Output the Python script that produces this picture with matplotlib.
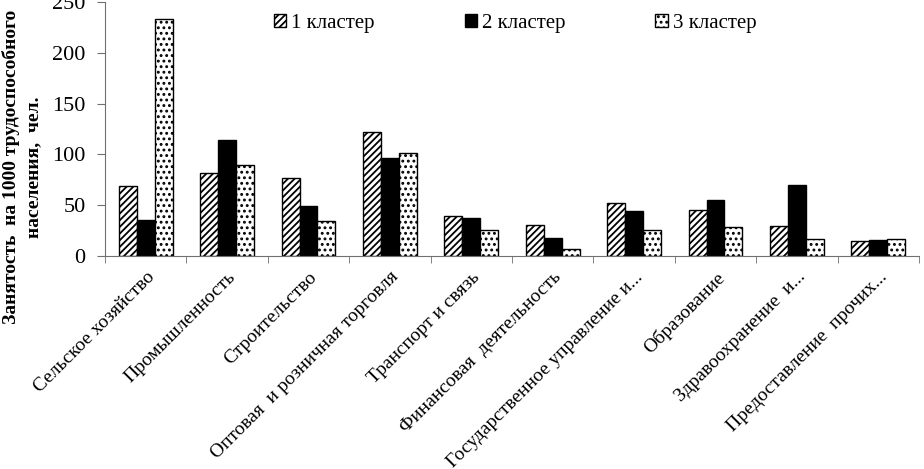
import matplotlib
matplotlib.use("Agg")
import matplotlib.pyplot as plt
import numpy as np
from matplotlib.patches import Patch

plt.rcParams['font.family'] = 'serif'
plt.rcParams['font.serif'] = ['Liberation Serif', 'DejaVu Serif']
plt.rcParams['hatch.linewidth'] = 1.3
FAM = 'Liberation Serif'

categories = ["Сельское хозяйство", "Промышленность", "Строительство",
              "Оптовая  и розничная торговля", "Транспорт и связь",
              "Финансовая  деятельность", "Государственное управление и...",
              "Образование", "Здравоохранение  и...", "Предоставление  прочих..."]
series_names = ["1 кластер", "2 кластер", "3 кластер"]
cluster1 = [69, 82, 77, 122, 39, 31, 52, 45, 30, 15]
cluster2 = [35, 114, 49, 96, 37, 18, 44, 55, 70, 16]
cluster3 = [233, 90, 34, 101, 26, 7, 26, 29, 17, 17]
yticks = [0, 50, 100, 150, 200, 250]
ylabel = "Занятость  на 1000 трудоспособного\nнаселения,  чел."

fig = plt.figure(figsize=(9.24, 4.69), dpi=100)
ax = fig.add_axes([105/924, 1-256/469, (919-105)/924, 254/469])

x = np.arange(len(categories))
w = 0.22
styles = [dict(facecolor='white', hatch='/////'),
          dict(facecolor='black', hatch=None),
          dict(facecolor='white', hatch='...')]
for i, vals in enumerate([cluster1, cluster2, cluster3]):
    ax.bar(x + (i - 1) * w, vals, w, edgecolor='black', linewidth=1.0,
           label=series_names[i], **styles[i])

ax.set_xlim(-0.5, len(categories) - 0.5)
ax.set_ylim(0, 250)
ax.set_yticks(yticks)
ax.set_yticklabels([str(t) for t in yticks], family=FAM, fontsize=16)
ax.tick_params(axis='y', length=6, direction='out', pad=8)
ax.set_xticks(x)
ax.set_xticklabels(categories, rotation=45, ha='right', rotation_mode='anchor',
                   fontsize=14, family=FAM)
ax.tick_params(axis='x', which='major', length=0, pad=9)
ax.set_xticks(np.arange(len(categories) + 1) - 0.5, minor=True)
ax.tick_params(axis='x', which='minor', length=5, direction='out')
for s in ['top', 'right']:
    ax.spines[s].set_visible(False)
ax.spines['left'].set_color('#707070')
ax.spines['bottom'].set_color('#707070')
ax.tick_params(axis='both', which='both', color='#707070')

fig.text(22/924, 1-167/469, ylabel, rotation=90, ha='center', va='center',
         fontsize=14, fontweight='bold', linespacing=1.4, multialignment='center',
         family=FAM)

handles = [Patch(edgecolor='black', linewidth=1.0, label=series_names[i], **styles[i]) for i in range(3)]
fig.legend(handles=handles, loc='upper left', bbox_to_anchor=(255/924, 1.01), ncol=3,
           frameon=False, handlelength=0.6, handleheight=0.6,
           handletextpad=0.25, columnspacing=4.3, prop=dict(family=FAM, size=15))

fig.savefig("out.png", dpi=100)
